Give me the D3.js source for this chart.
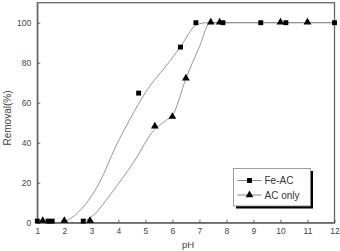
<!DOCTYPE html>
<html>
<head>
<meta charset="utf-8">
<script src="https://cdn.jsdelivr.net/npm/d3@7"></script>
<style>
  body { margin: 0; background: #fff; }
  svg { display: block; font-family: 'Liberation Sans', Arial, sans-serif; }
</style>
</head>
<body>
<div id="chart-viz"></div>
<script>
// measured points
const feAcPH = [1.0, 1.4, 1.55, 2.7, 4.75, 6.3, 6.87, 7.87, 9.27, 10.2, 12]
const feAcRemoval = [0.8, 0.8, 0.8, 0.8, 64.8, 87.8, 100, 100, 100, 100, 100]
const acPH = [1.2, 2.0, 2.95, 5.35, 6.0, 6.5, 7.42, 7.75, 10.0, 11.0]
const acRemoval = [0.8, 0.8, 0.8, 48, 52.8, 72, 100, 100, 100, 100]

// fitted curves
const feAcFitPH = [1.97, 2.5, 3.3, 3.9, 4.4, 5.0, 5.9, 6.3, 6.9, 7.3, 12]
const feAcFitRemoval = [0, 5, 20, 38, 51, 65, 80.7, 88, 99, 100, 100]
const acFitPH = [2.6, 3.1, 3.7, 4.6, 5.3, 5.75, 6.0, 6.5, 7.0, 7.4, 12]
const acFitRemoval = [0, 4, 14, 31, 46, 51, 53.5, 72, 88, 100, 100]

const xTicks = [1, 2, 3, 4, 5, 6, 7, 8, 9, 10, 11, 12]
const yTicks = [0, 20, 40, 60, 80, 100]
const seriesNames = ['Fe-AC', 'AC only']

const width = 340
const height = 251
const margin = { top: 2.7, right: 5.5, bottom: 28.3, left: 37.3 }

const svg = d3.select('#chart-viz')
  .append('svg')
  .attr('width', width)
  .attr('height', height)

const x = d3.scaleLinear().domain([1, 12]).range([margin.left, width - margin.right])
const y = d3.scaleLinear().domain([0, 110]).range([height - margin.bottom, margin.top])

const axisColor = '#666'
const textColor = '#444'

// frame
svg.append('rect')
  .attr('x', x(1))
  .attr('y', y(110))
  .attr('width', x(12) - x(1))
  .attr('height', y(0) - y(110))
  .attr('fill', 'none')
  .attr('stroke', axisColor)
  .attr('stroke-width', 1.3)

/**
 * Styles an axis group: grey lines, small labels.
 */
function styleAxis (g) {
  g.select('.domain').attr('stroke', axisColor).attr('stroke-width', 1.3)
  g.selectAll('.tick line').attr('stroke', axisColor)
  g.selectAll('.tick text')
    .attr('fill', textColor)
    .style('font-size', '8.5px')
}

svg.append('g')
  .attr('transform', `translate(0,${y(0)})`)
  .call(d3.axisBottom(x).tickValues(xTicks).tickSizeInner(-3).tickSizeOuter(0).tickPadding(5))
  .call(styleAxis)

svg.append('g')
  .attr('transform', `translate(${x(1)},0)`)
  .call(d3.axisLeft(y).tickValues(yTicks).tickSizeInner(-3).tickSizeOuter(0).tickPadding(6))
  .call(styleAxis)

// axis titles
svg.append('text')
  .attr('x', 188)
  .attr('y', 248)
  .attr('text-anchor', 'middle')
  .attr('fill', textColor)
  .style('font-size', '9.5px')
  .text('pH')

svg.append('text')
  .attr('transform', 'translate(10.5,118) rotate(-90)')
  .attr('text-anchor', 'middle')
  .attr('fill', textColor)
  .style('font-size', '10px')
  .text('Removal(%)')

// fitted curves
const line = d3.line()
  .x(d => x(d[0]))
  .y(d => y(d[1]))
  .curve(d3.curveMonotoneX)

const fits = [
  d3.zip(feAcFitPH, feAcFitRemoval),
  d3.zip(acFitPH, acFitRemoval)
]

svg.selectAll('path.fit')
  .data(fits)
  .join('path')
  .attr('class', 'fit')
  .attr('d', line)
  .attr('fill', 'none')
  .attr('stroke', '#8a8a8a')
  .attr('stroke-width', 0.9)

const squareSym = d3.symbol().type(d3.symbolSquare).size(24)
const triangleSym = d3.symbol().type(d3.symbolTriangle).size(26)

svg.selectAll('path.fe')
  .data(d3.zip(feAcPH, feAcRemoval))
  .join('path')
  .attr('class', 'fe')
  .attr('d', squareSym)
  .attr('transform', d => `translate(${x(d[0])},${y(d[1])})`)
  .attr('fill', '#000')

svg.selectAll('path.ac')
  .data(d3.zip(acPH, acRemoval))
  .join('path')
  .attr('class', 'ac')
  .attr('d', triangleSym)
  .attr('transform', d => `translate(${x(d[0])},${y(d[1]) - 0.5})`)
  .attr('fill', '#000')

// legend
const legend = svg.append('g').attr('transform', 'translate(233.5,168.5)')

legend.append('rect')
  .attr('x', 2.5).attr('y', 2.5)
  .attr('width', 77).attr('height', 37.5)
  .attr('fill', '#000')

legend.append('rect')
  .attr('width', 77).attr('height', 37.5)
  .attr('fill', '#fff')
  .attr('stroke', '#888')
  .attr('stroke-width', 0.8)

const rows = legend.selectAll('g.row')
  .data(seriesNames)
  .join('g')
  .attr('class', 'row')
  .attr('transform', (d, i) => `translate(0,${12 + i * 14.5})`)

rows.append('line')
  .attr('x1', 4).attr('x2', 28)
  .attr('stroke', '#777')
  .attr('stroke-width', 0.9)

rows.append('path')
  .attr('d', (d, i) => (i === 0 ? squareSym : triangleSym)())
  .attr('transform', 'translate(16,0)')
  .attr('fill', '#000')

rows.append('text')
  .attr('x', 31)
  .attr('dy', '0.35em')
  .attr('fill', '#333')
  .style('font-size', '10px')
  .text(d => d)
</script>
</body>
</html>
